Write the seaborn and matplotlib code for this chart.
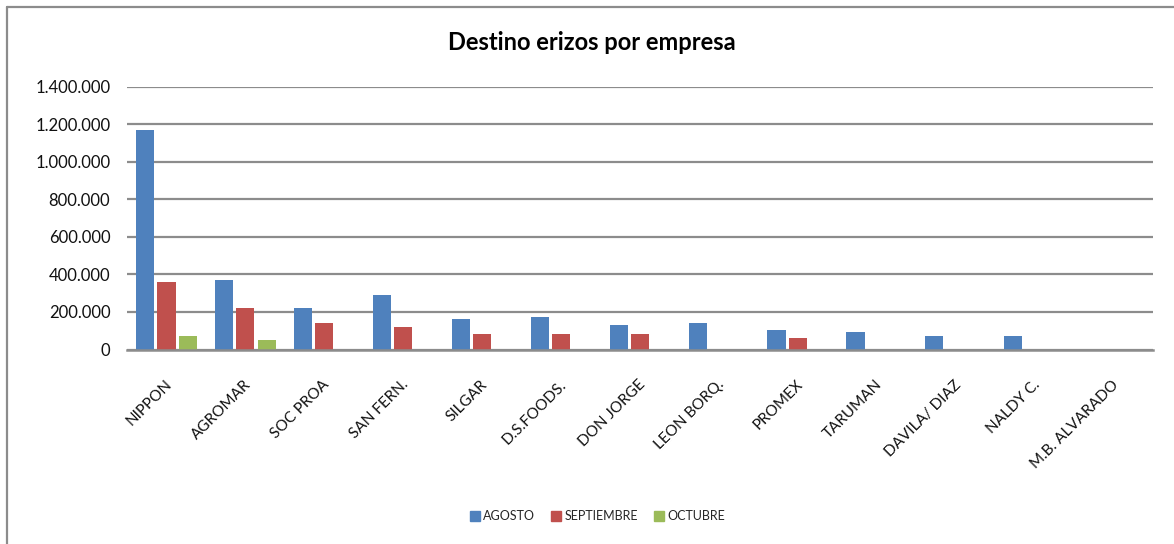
import matplotlib
matplotlib.use("Agg")
import matplotlib.pyplot as plt
import seaborn as sns
import pandas as pd
from matplotlib.lines import Line2D
from matplotlib.ticker import FuncFormatter
import matplotlib.transforms as mtransforms

empresas = ["NIPPON", "AGROMAR", "SOC PROA", "SAN FERN.", "SILGAR", "D.S.FOODS.",
            "DON JORGE", "LEON BORQ.", "PROMEX", "TARUMAN", "DAVILA/ DIAZ",
            "NALDY C.", "M.B. ALVARADO"]
meses = ["AGOSTO", "SEPTIEMBRE", "OCTUBRE"]
agosto = [1168000, 370000, 221000, 290000, 162000, 172000, 131000, 142000, 104000, 92000, 72000, 72000, 0]
septiembre = [361000, 221000, 140000, 121000, 82000, 82000, 82000, 0, 63000, 0, 0, 0, 0]
octubre = [72000, 52000, 0, 0, 0, 0, 0, 0, 0, 0, 0, 0, 0]
colores = ["#4F81BD", "#C0504D", "#9BBB59"]
yticks = [0, 200000, 400000, 600000, 800000, 1000000, 1200000, 1400000]

rows = []
for mes, vals in zip(meses, [agosto, septiembre, octubre]):
    for e, v in zip(empresas, vals):
        rows.append({"empresa": e, "mes": mes, "valor": v})
df = pd.DataFrame(rows)

sns.set_theme(style="white")
plt.rcParams["font.family"] = ["Lato", "DejaVu Sans"]

fig = plt.figure(figsize=(11.74, 5.44), dpi=100)
ax = fig.add_axes([127 / 1174, 1 - 349.5 / 544, (1153 - 127) / 1174, (349.5 - 86.7) / 544])

sns.barplot(data=df, x="empresa", y="valor", hue="mes", order=empresas, hue_order=meses,
            palette=colores, width=0.81, gap=0.15, ax=ax, legend=False,
            edgecolor="none", linewidth=0, saturation=1)

ax.set_ylim(0, 1400000)
ax.set_xlim(-0.5, len(empresas) - 0.5)
ax.set_yticks(yticks)
ax.yaxis.set_major_formatter(FuncFormatter(lambda v, p: f"{int(v):,}".replace(",", ".")))
ax.grid(axis="y", color="#8C8C8C", linewidth=1.6)
ax.set_axisbelow(True)
for s in ["top", "right", "left"]:
    ax.spines[s].set_visible(False)
ax.spines["bottom"].set_color("#8C8C8C")
ax.spines["bottom"].set_linewidth(1.8)
ax.set_xlabel("")
ax.set_ylabel("")
ax.tick_params(axis="y", length=0, labelsize=12, pad=12, colors="#111111")
ax.tick_params(axis="x", length=0, labelsize=11, pad=0, colors="#111111")
ax.set_xticks(range(len(empresas)))
ax.set_xticklabels(empresas, rotation=45, ha="right", va="center", rotation_mode="anchor")
offset = mtransforms.ScaledTranslation(3 / 100, -33 / 100, fig.dpi_scale_trans)
for lab in ax.get_xticklabels():
    lab.set_transform(lab.get_transform() + offset)

fig.text(592 / 1174, 1 - 42 / 544, "Destino erizos por empresa", ha="center", va="center",
         fontsize=17, fontweight="bold", color="#000000")

handles = [Line2D([0], [0], marker="s", linestyle="none", markersize=7,
                  markerfacecolor=c, markeredgecolor=c) for c in colores]
fig.legend(handles, meses, loc="center", bbox_to_anchor=(596 / 1174, 1 - 516 / 544), ncol=3,
           frameon=False, fontsize=9, handletextpad=0.05, columnspacing=1.1, handlelength=1.2)

fig.add_artist(Line2D([7 / 1174, 7 / 1174], [0, 1 - 7 / 544], transform=fig.transFigure,
                      color="#8C8C8C", linewidth=1.6))
fig.add_artist(Line2D([7 / 1174, 1], [1 - 7 / 544, 1 - 7 / 544], transform=fig.transFigure,
                      color="#8C8C8C", linewidth=1.6))

fig.savefig("out.png", dpi=100, facecolor="white")
